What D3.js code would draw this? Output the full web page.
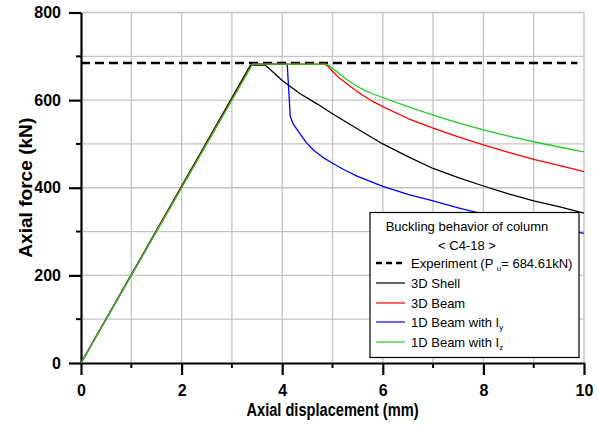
<!DOCTYPE html>
<html>
<head>
<meta charset="utf-8">
<script src="https://cdn.jsdelivr.net/npm/d3@7"></script>
<style>
  html, body { margin: 0; padding: 0; background: #fff; }
  svg { display: block; }
  text { font-family: "Liberation Sans", Arial, sans-serif; fill: #000; }
</style>
</head>
<body>
<svg id="chart" width="598" height="425"></svg>
<script>
  // ===== 数据 =====
  var xTicks = [0, 2, 4, 6, 8, 10];
  var yTicks = [0, 200, 400, 600, 800];
  var xMinor = [1, 3, 5, 7, 9];
  var yMinor = [100, 300, 500, 700];

  var experimentLoad = 684.61;
  var experimentRange = [0, 9.87];

  var shellX = [0, 3.37, 3.66, 3.8, 4.0, 4.35, 4.7, 5.0, 5.5, 6.0, 6.5, 7.0, 7.5, 8.0, 8.5, 9.0, 9.5, 10];
  var shellY = [0, 680, 680, 666, 645, 615, 591, 569, 534, 500, 471, 444, 423, 404, 386, 370, 357, 342];

  var beam3dX = [0, 3.40, 4.85, 4.92, 5.0, 5.12, 5.28, 5.45, 5.6, 5.8, 6.0, 6.5, 7.0, 7.5, 8.0, 8.5, 9.0, 9.5, 10];
  var beam3dY = [0, 682, 682, 676, 666, 652, 638, 623, 611, 597, 585, 558, 536, 516, 498, 481, 465, 451, 437];

  var beamIyX = [0, 3.40, 4.10, 4.16, 4.22, 4.35, 4.48, 4.62, 4.8, 5.0, 5.25, 5.5, 6.0, 6.5, 7.0, 7.5, 8.0, 8.5, 9.0, 9.5, 10];
  var beamIyY = [0, 682, 682, 563, 545, 524, 503, 486, 470, 456, 440, 426, 403, 385, 370, 354, 340, 328, 317, 306, 296];

  var beamIzX = [0, 3.41, 4.88, 4.95, 5.05, 5.18, 5.3, 5.45, 5.61, 5.8, 6.0, 6.5, 7.0, 7.5, 8.0, 8.5, 9.0, 9.5, 10];
  var beamIzY = [0, 682, 682, 677, 668, 656, 646, 634, 624, 614, 606, 585, 566, 548, 532, 518, 505, 493, 482];

  var seriesNames = ['3D Shell', '3D Beam', '1D Beam with I', '1D Beam with I'];
  var seriesSubs = ['', '', 'y', 'z'];
  var seriesColors = ['#000000', '#ff0000', '#0000ff', '#22cc22'];

  function zip(xs, ys) {
    return xs.map(function (x, i) { return [x, ys[i]]; });
  }

  var series = [
    zip(shellX, shellY),
    zip(beam3dX, beam3dY),
    zip(beamIyX, beamIyY),
    zip(beamIzX, beamIzY)
  ];

  // ===== 布局 =====
  var svg = d3.select('#chart');
  var plotL = 81, plotR = 584, plotT = 12.5, plotB = 363;

  var x = d3.scaleLinear().domain([0, 10]).range([plotL, plotR]);
  var y = d3.scaleLinear().domain([0, 800]).range([plotB, plotT]);

  // 网格
  var grid = svg.append('g').attr('stroke', '#c4c4c4').attr('stroke-width', 1.3);
  grid.selectAll('line.gx')
    .data(d3.range(1, 11))
    .join('line')
    .attr('x1', function (d) { return x(d); })
    .attr('x2', function (d) { return x(d); })
    .attr('y1', plotT).attr('y2', plotB);
  grid.selectAll('line.gy')
    .data(d3.range(100, 900, 100))
    .join('line')
    .attr('y1', function (d) { return y(d); })
    .attr('y2', function (d) { return y(d); })
    .attr('x1', plotL).attr('x2', plotR);

  // 坐标轴
  var xAxis = svg.append('g')
    .attr('transform', 'translate(0,' + plotB + ')')
    .call(d3.axisBottom(x).tickValues(xTicks).tickSize(12).tickPadding(10).tickSizeOuter(0));
  var yAxis = svg.append('g')
    .attr('transform', 'translate(' + plotL + ',0)')
    .call(d3.axisLeft(y).tickValues(yTicks).tickSize(12).tickPadding(8).tickSizeOuter(0));

  [xAxis, yAxis].forEach(function (ax) {
    ax.select('.domain').attr('stroke', '#000').attr('stroke-width', 2.2);
    ax.selectAll('.tick line').attr('stroke', '#000').attr('stroke-width', 2.2);
    ax.selectAll('.tick text')
      .attr('fill', '#000')
      .style('font-size', '16px')
      .style('font-weight', 'bold')
      .style('font-family', '"Liberation Sans", Arial, sans-serif');
  });

  // 次刻度
  svg.append('g').selectAll('line')
    .data(xMinor)
    .join('line')
    .attr('x1', function (d) { return x(d); })
    .attr('x2', function (d) { return x(d); })
    .attr('y1', plotB).attr('y2', plotB + 5)
    .attr('stroke', '#000').attr('stroke-width', 2);
  svg.append('g').selectAll('line')
    .data(yMinor)
    .join('line')
    .attr('y1', function (d) { return y(d); })
    .attr('y2', function (d) { return y(d); })
    .attr('x1', plotL - 5).attr('x2', plotL)
    .attr('stroke', '#000').attr('stroke-width', 2);

  // 轴标题（窄体字 → 用 textLength 压缩）
  svg.append('text')
    .attr('x', (plotL + plotR) / 2).attr('y', 416)
    .attr('text-anchor', 'middle')
    .attr('textLength', 172).attr('lengthAdjust', 'spacingAndGlyphs')
    .style('font-size', '18px').style('font-weight', 'bold')
    .text('Axial displacement (mm)');
  svg.append('text')
    .attr('transform', 'translate(32,' + ((plotT + plotB) / 2) + ') rotate(-90)')
    .attr('text-anchor', 'middle')
    .attr('textLength', 140).attr('lengthAdjust', 'spacingAndGlyphs')
    .style('font-size', '18px').style('font-weight', 'bold')
    .text('Axial force (kN)');

  // 曲线
  var line = d3.line()
    .x(function (d) { return x(d[0]); })
    .y(function (d) { return y(d[1]); });

  svg.append('line')
    .attr('x1', x(experimentRange[0])).attr('x2', x(experimentRange[1]))
    .attr('y1', y(experimentLoad)).attr('y2', y(experimentLoad))
    .attr('stroke', '#000').attr('stroke-width', 2.6)
    .attr('stroke-dasharray', '9,5');

  var drawOrder = [2, 0, 1, 3];
  drawOrder.forEach(function (i) {
    svg.append('path')
      .datum(series[i])
      .attr('d', line)
      .attr('fill', 'none')
      .attr('stroke', seriesColors[i])
      .attr('stroke-width', 1.3)
      .attr('stroke-linejoin', 'round');
  });

  // 图例
  var lg = svg.append('g');
  lg.append('rect')
    .attr('x', 370).attr('y', 212.5).attr('width', 209).attr('height', 145)
    .attr('fill', '#fff').attr('stroke', '#000').attr('stroke-width', 1.2);

  lg.append('text').attr('x', 467).attr('y', 231).attr('text-anchor', 'middle')
    .style('font-size', '13px').text('Buckling behavior of column');
  lg.append('text').attr('x', 467).attr('y', 250).attr('text-anchor', 'middle')
    .style('font-size', '13px').text('< C4-18 >');

  var rowY = [263, 283, 303, 322, 342];
  lg.append('line')
    .attr('x1', 376).attr('x2', 405).attr('y1', rowY[0]).attr('y2', rowY[0])
    .attr('stroke', '#000').attr('stroke-width', 2.4).attr('stroke-dasharray', '6,4');
  var expText = lg.append('text').attr('x', 411).attr('y', rowY[0] + 4.5).style('font-size', '13px');
  expText.append('tspan').text('Experiment (P ');
  expText.append('tspan').attr('dy', 3).style('font-size', '8px').text('u');
  expText.append('tspan').attr('dy', -3).text('= ' + experimentLoad + 'kN)');

  seriesNames.forEach(function (name, i) {
    var ry = rowY[i + 1];
    lg.append('line')
      .attr('x1', 376).attr('x2', 405).attr('y1', ry).attr('y2', ry)
      .attr('stroke', seriesColors[i]).attr('stroke-width', 1.2);
    var t = lg.append('text').attr('x', 411).attr('y', ry + 4.5).style('font-size', '13px').text(name);
    if (seriesSubs[i]) {
      t.append('tspan').attr('dy', 3).style('font-size', '8px').text(seriesSubs[i]);
    }
  });
</script>
</body>
</html>
